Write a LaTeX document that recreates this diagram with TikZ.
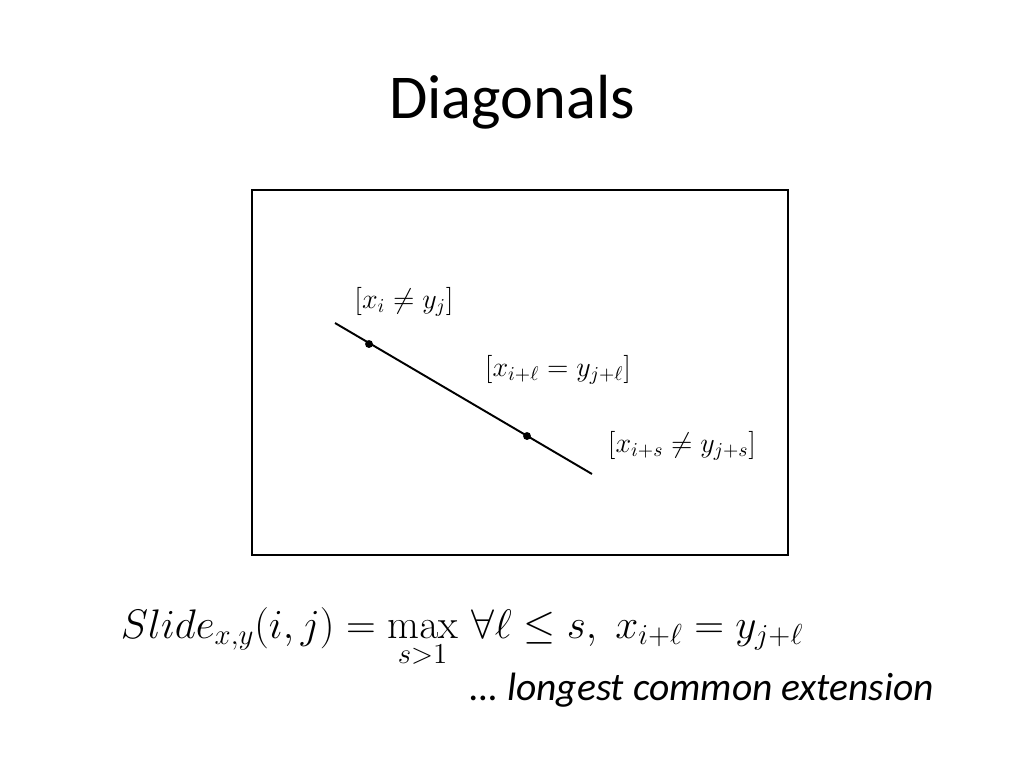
\RequirePackage{fix-cm}
\documentclass[tikz,border=0pt]{standalone}
\usepackage{amsmath,amssymb}
\usepackage[no-math]{fontspec}
\setmainfont{Carlito}
\usetikzlibrary{positioning}
\tikzset{dot/.style={circle,fill,inner sep=0pt,minimum size=4.5pt},
	lbl/.style={inner sep=0pt,font=\fontsize{16}{19}\selectfont},
	frame/.style={draw,line width=1.6pt}}
\begin{document}
\begin{tikzpicture}
	[x=0.02cm,y=-0.02cm,line width=1.1pt]

	\useasboundingbox (0,0) rectangle (1024,768);
	\node (title) at (512,102) {\fontsize{35.5}{42}\selectfont Diagonals};
	\draw [frame] (252,190) rectangle (788,555);

	\coordinate (start) at (335,323);
	\coordinate (end) at (592,474);
	\draw (start) -- (end);
	\node [dot] (first) at (369,344) {};
	\node [dot] (last) at (527,436) {};

	\node [lbl] (lfirst) at (404,302) {$[x_i \neq y_j]$};
	\node [lbl] (lmid) at (558,370) {$[x_{i+\ell} = y_{j+\ell}]$};
	\node [lbl] (llast) at (682,446) {$[x_{i+s} \neq y_{j+s}]$};

	\node [anchor=base west,inner sep=0pt,font=\fontsize{23.5}{28}\selectfont] (slide) at (120,638)
		{$Slide_{x,y}(i,j) = \max\limits_{s>1}\, \forall\ell \leq s,\; x_{i+\ell} = y_{j+\ell}$};
	\node [anchor=base east,inner sep=0pt,font=\fontsize{22.5}{27}\selectfont\itshape] (lce) at (935,700)
		{\dots\ longest common extension};
\end{tikzpicture}
\end{document}
